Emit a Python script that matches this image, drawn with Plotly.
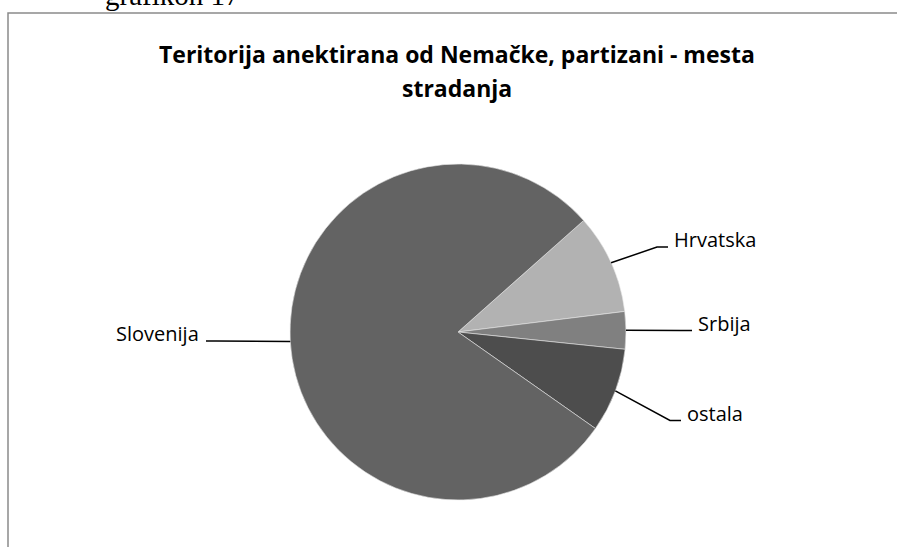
import math
import plotly.graph_objects as go

# data (shares, clockwise from Hrvatska)
regions = ["Hrvatska", "Srbija", "ostala", "Slovenija"]
shares = [9.6, 3.6, 8.1, 78.7]
colors = ["#b2b2b2", "#808080", "#4d4d4d", "#636363"]
title_lines = ["Teritorija anektirana od Nemačke, partizani - mesta", "stradanja"]

W, H = 897, 547
CX, CY, R = 458, 332, 168
START = 48.4  # degrees clockwise from 12 o'clock

# label text start (or end) x, baseline y, side of the pie
label_pos = {
    "Hrvatska": (672, 247, "left"),
    "Srbija": (696, 330.5, "left"),
    "ostala": (685, 420.5, "left"),
    "Slovenija": (201, 341, "right"),
}
FONT = "'Open Sans', 'Noto Sans', sans-serif"


def px(x, y):
    return x / W, 1 - y / H


fig = go.Figure()
x0, y1 = px(CX - R, CY - R)
x1, y0 = px(CX + R, CY + R)
fig.add_trace(go.Pie(
    labels=regions, values=shares, sort=False, direction="clockwise",
    rotation=START, marker=dict(colors=colors, line=dict(color="#e6e6e6", width=0.6)),
    textinfo="none", hoverinfo="label+percent", showlegend=False,
    domain=dict(x=[x0, x1], y=[y0, y1]),
))

# leader lines + labels
total = sum(shares)
acc = 0.0
for name, v in zip(regions, shares):
    mid = START + (acc + v / 2) / total * 360
    acc += v
    a = math.radians(mid)
    ex, ey = CX + R * math.sin(a), CY - R * math.cos(a)
    tx, base, side = label_pos[name]
    if side == "left":
        bx, cx_ = tx - 15, tx - 4
    else:
        bx, cx_ = tx + 15, tx + 5
    p = [px(ex, ey), px(bx, base), px(cx_, base)]
    path = "M {} {} L {} {} L {} {}".format(p[0][0], p[0][1], p[1][0], p[1][1], p[2][0], p[2][1])
    fig.add_shape(type="path", path=path, xref="paper", yref="paper",
                  line=dict(color="black", width=1.5))
    ax, ay = px(tx, base - 7.5)
    fig.add_annotation(x=ax, y=ay, xref="paper", yref="paper", text=name, showarrow=False,
                       xanchor="left" if side == "left" else "right", yanchor="middle",
                       font=dict(family=FONT, size=20, color="black"))

# two-line bold title, spaced like the original
for line, ty in zip(title_lines, [54, 88]):
    ax, ay = px(457, ty)
    fig.add_annotation(x=ax, y=ay, xref="paper", yref="paper", text="<b>" + line + "</b>",
                       showarrow=False, xanchor="center", yanchor="middle",
                       font=dict(family=FONT, size=23, color="black"))

# chart frame (extends past the window on the right and bottom)
fx0, fy1 = px(8, 13)
fig.add_shape(type="rect", xref="paper", yref="paper", x0=fx0, y0=-0.2, x1=1.2, y1=fy1,
              line=dict(color="#8a8a8a", width=1.5), fillcolor="rgba(0,0,0,0)")

# caption above the frame, cut off by the top of the page
gx, gy = px(172, 13)
fig.add_annotation(x=gx, y=gy, xref="paper", yref="paper", text="grafikon 17", showarrow=False,
                   xanchor="center", yanchor="bottom",
                   font=dict(family="Liberation Serif, serif", size=29, color="black"))

fig.update_layout(
    width=W, height=H, margin=dict(l=0, r=0, t=0, b=0),
    paper_bgcolor="white", plot_bgcolor="white",
)

fig.write_html("out.html", config={"displayModeBar": False},
               post_script="document.body.style.margin='0';document.body.style.overflow='hidden';")
